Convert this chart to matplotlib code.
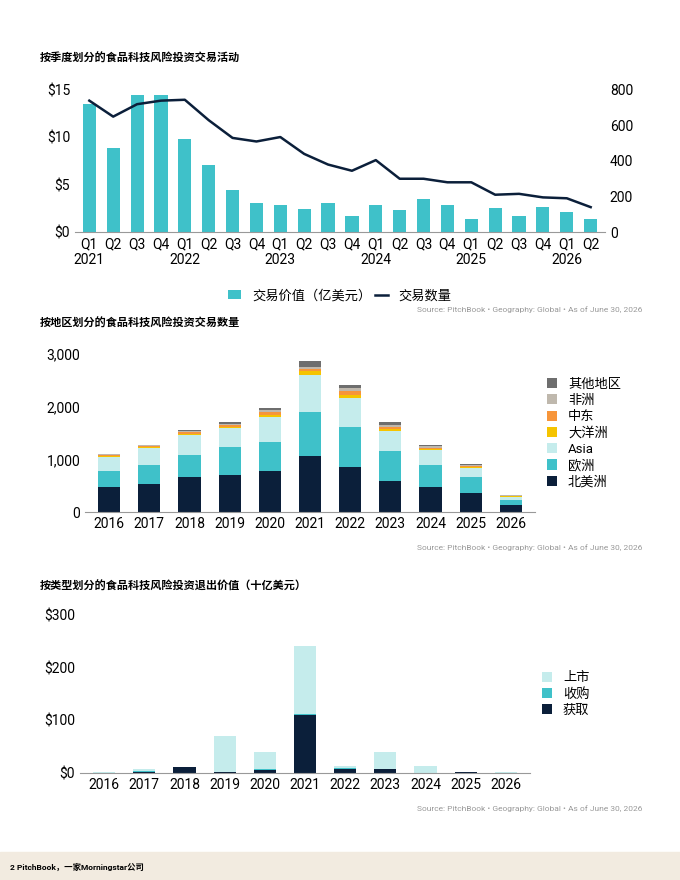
import numpy as np
import matplotlib.pyplot as plt

plt.rcParams['font.family'] = ['Roboto', 'Noto Sans CJK SC', 'DejaVu Sans']

NAVY = '#0B1F3A'
TEAL = '#3FC1C9'
LIGHT = '#C5ECEC'

# quarterly deal activity
quarters = ['Q1\n2021', 'Q2', 'Q3', 'Q4', 'Q1\n2022', 'Q2', 'Q3', 'Q4', 'Q1\n2023', 'Q2', 'Q3', 'Q4',
            'Q1\n2024', 'Q2', 'Q3', 'Q4', 'Q1\n2025', 'Q2', 'Q3', 'Q4', 'Q1\n2026', 'Q2']
deal_value = [13.5, 8.9, 14.5, 14.5, 9.8, 7.1, 4.4, 3.1, 2.9, 2.4, 3.1, 1.7,
              2.9, 2.3, 3.5, 2.9, 1.4, 2.5, 1.7, 2.6, 2.1, 1.4]
deal_count = [740, 650, 720, 740, 745, 630, 530, 510, 535, 440, 380, 345,
              405, 300, 300, 280, 280, 210, 215, 195, 190, 140]

# deal count by region
years = ['2016', '2017', '2018', '2019', '2020', '2021', '2022', '2023', '2024', '2025', '2026']
north_america = [480, 540, 660, 700, 770, 1070, 850, 590, 480, 370, 140]
europe = [290, 360, 420, 530, 550, 820, 760, 560, 420, 290, 90]
asia = [280, 310, 380, 360, 490, 720, 560, 380, 270, 180, 60]
oceania = [15, 20, 25, 30, 40, 60, 50, 40, 25, 20, 10]
middle_east = [15, 20, 25, 30, 40, 50, 80, 40, 25, 20, 10]
africa = [15, 15, 20, 30, 40, 40, 50, 40, 25, 15, 10]
other = [15, 15, 20, 30, 40, 110, 70, 60, 30, 15, 10]

# exit value by type ($B)
acquisition = [0.5, 1, 11, 2, 6, 110, 8, 8, 0, 2, 0]
buyout = [0, 2, 0, 0, 2, 2, 1, 0, 0, 0, 0]
ipo = [1.5, 5, 1, 68, 32, 130, 4, 32, 13, 0.5, 1]

fig = plt.figure(figsize=(6.8, 8.8), dpi=100)
src = 'Source: PitchBook • Geography: Global • As of June 30, 2026'


def style(ax):
    for s in ['top', 'right', 'left']:
        ax.spines[s].set_visible(False)
    ax.spines['bottom'].set_color('#999999')
    ax.tick_params(length=0, labelsize=10)


# chart 1
ax1 = fig.add_axes([75/680, 1-232/880, 530/680, 142/880])
x = np.arange(len(quarters))
ax1.bar(x, deal_value, 0.55, color=TEAL, label='交易价值（亿美元）')
ax1.set_ylim(0, 15)
ax1.set_yticks([0, 5, 10, 15])
ax1.set_yticklabels(['$0', '$5', '$10', '$15'])
ax1.set_xlim(-0.6, len(x) - 0.4)
ax1.set_xticks(x)
ax1.set_xticklabels(quarters, ha='center')
style(ax1)
ax1b = ax1.twinx()
ax1b.plot(x, deal_count, color=NAVY, lw=1.8, label='交易数量')
ax1b.set_ylim(0, 800)
ax1b.set_yticks([0, 200, 400, 600, 800])
style(ax1b)
ax1b.spines['bottom'].set_visible(False)
h1, l1 = ax1.get_legend_handles_labels()
h2, l2 = ax1b.get_legend_handles_labels()
ax1.legend(h1 + h2, l1 + l2, loc='upper center', bbox_to_anchor=(0.5, -0.32), ncol=2,
           frameon=False, fontsize=9.5, handlelength=1, columnspacing=0.3)
fig.text(40/680, 1-62/880, '按季度划分的食品科技风险投资交易活动', fontsize=8, fontweight='bold')
fig.text(642/680, 1-312/880, src, fontsize=6, color='#999999', ha='right')

# chart 2
ax2 = fig.add_axes([85/680, 1-512/880, 450/680, 158/880])
xy = np.arange(len(years))
series = [(north_america, NAVY, '北美洲'), (europe, TEAL, '欧洲'), (asia, LIGHT, 'Asia'),
          (oceania, '#F5C400', '大洋洲'), (middle_east, '#F7953A', '中东'),
          (africa, '#BFB8AD', '非洲'), (other, '#6E6E6E', '其他地区')]
bottom = np.zeros(len(years))
for vals, c, lab in series:
    ax2.bar(xy, vals, 0.55, bottom=bottom, color=c, label=lab)
    bottom += np.array(vals)
ax2.set_ylim(0, 3000)
ax2.set_yticks([0, 1000, 2000, 3000])
ax2.set_yticklabels(['0', '1,000', '2,000', '3,000'])
ax2.set_xlim(-0.6, len(xy) - 0.4)
ax2.set_xticks(xy)
ax2.set_xticklabels(years)
style(ax2)
h, l = ax2.get_legend_handles_labels()
ax2.legend(h[::-1], l[::-1], loc='center left', bbox_to_anchor=(1.0, 0.5), frameon=False,
           fontsize=9.5, handlelength=0.8, handleheight=0.8, labelspacing=0.25)
fig.text(40/680, 1-327/880, '按地区划分的食品科技风险投资交易数量', fontsize=8, fontweight='bold')
fig.text(642/680, 1-550/880, src, fontsize=6, color='#999999', ha='right')

# chart 3
ax3 = fig.add_axes([80/680, 1-773/880, 450/680, 158/880])
bottom = np.zeros(len(years))
for vals, c, lab in [(acquisition, NAVY, '获取'), (buyout, TEAL, '收购'), (ipo, LIGHT, '上市')]:
    ax3.bar(xy, vals, 0.55, bottom=bottom, color=c, label=lab)
    bottom += np.array(vals)
ax3.set_ylim(0, 300)
ax3.set_yticks([0, 100, 200, 300])
ax3.set_yticklabels(['$0', '$100', '$200', '$300'])
ax3.set_xlim(-0.6, len(xy) - 0.4)
ax3.set_xticks(xy)
ax3.set_xticklabels(years)
style(ax3)
h, l = ax3.get_legend_handles_labels()
ax3.legend(h[::-1], l[::-1], loc='center left', bbox_to_anchor=(1.0, 0.5), frameon=False,
           fontsize=9.5, handlelength=0.8, handleheight=0.8, labelspacing=0.25)
fig.text(40/680, 1-590/880, '按类型划分的食品科技风险投资退出价值（十亿美元）', fontsize=8, fontweight='bold')
fig.text(642/680, 1-811/880, src, fontsize=6, color='#999999', ha='right')

# footer band
fig.patches.append(plt.Rectangle((0, 0), 1, 28/880, transform=fig.transFigure,
                                 color='#F2EBE0', zorder=0))
fig.text(10/680, 10/880, '2 PitchBook，一家Morningstar公司', fontsize=6, fontweight='bold')

fig.savefig('out.png', dpi=100)
